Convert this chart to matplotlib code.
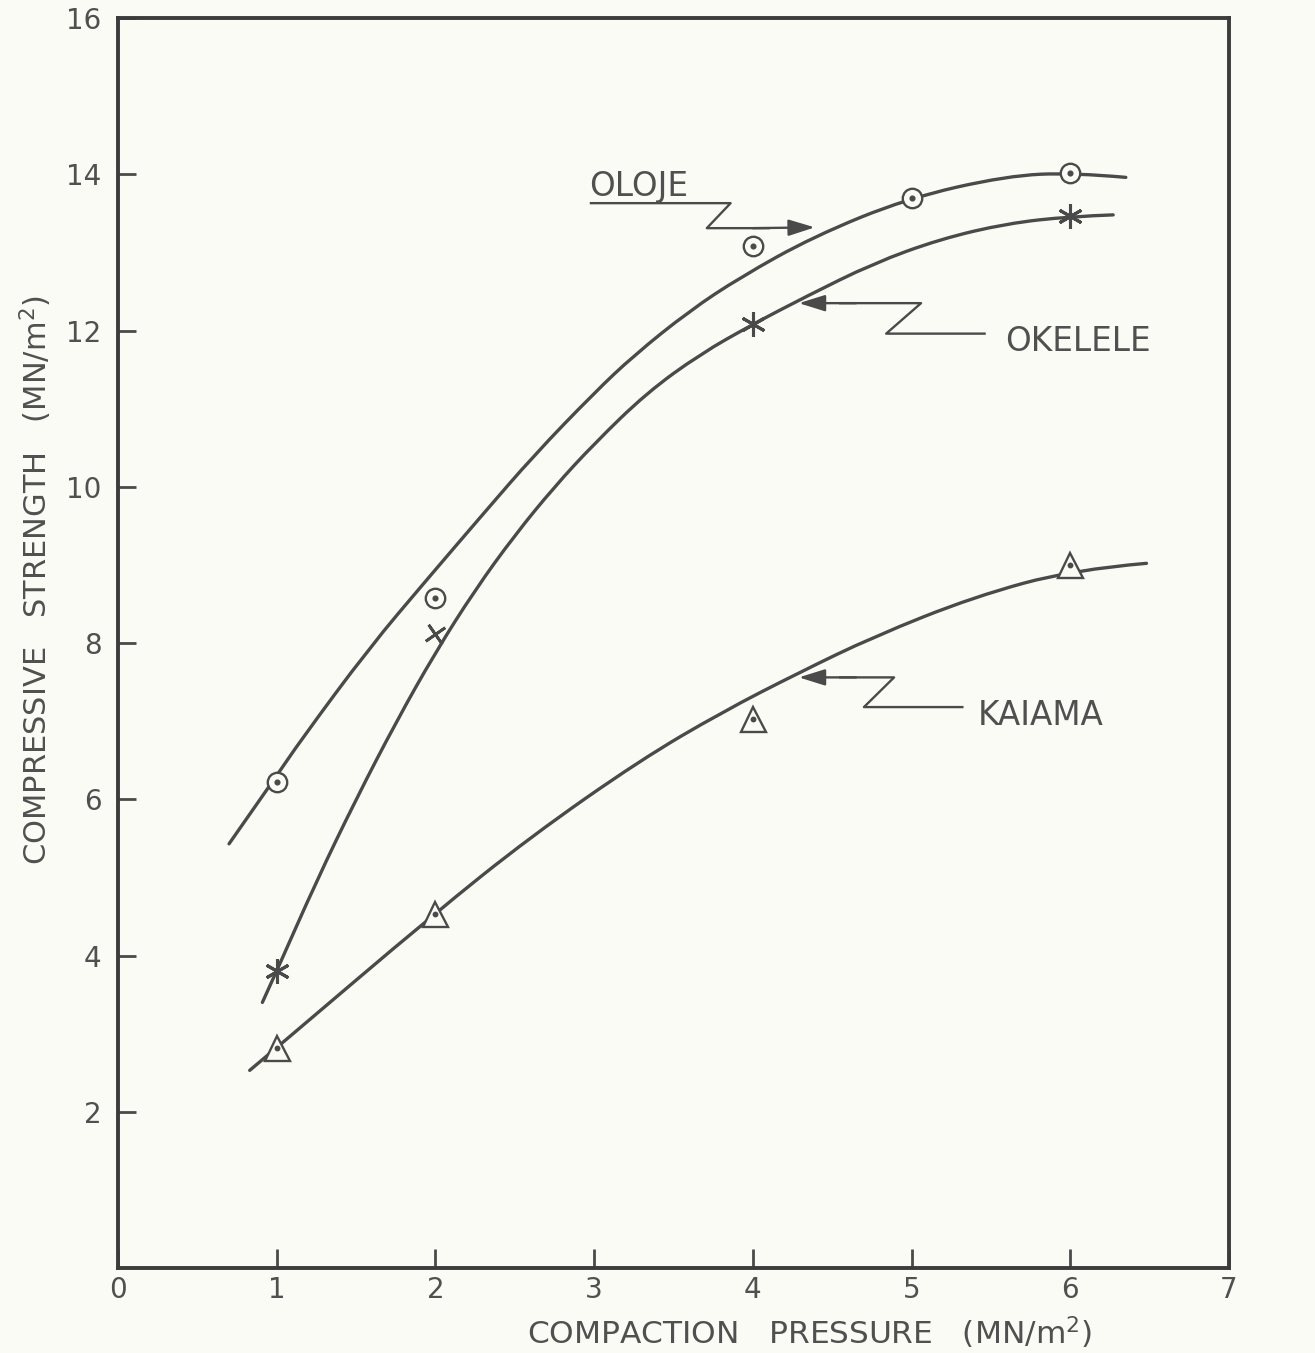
import matplotlib
matplotlib.use("Agg")
import matplotlib.pyplot as plt
from matplotlib.path import Path
from matplotlib.patches import PathPatch

# measured points
pressure_oloje = [1, 2, 4, 5, 6]
strength_oloje = [6.22, 8.58, 13.08, 13.69, 14.01]
pressure_okelele = [1, 2, 4, 6]
strength_okelele = [3.80, 8.12, 12.08, 13.47]
pressure_kaiama = [1, 2, 4, 6]
strength_kaiama = [2.82, 4.53, 7.03, 9.00]

# hand drawn trend curves
curve_oloje_x = [0.70, 1.00, 1.15, 1.58, 1.95, 2.30, 2.62, 3.00, 3.25, 3.60, 3.92, 4.38, 4.97, 5.60, 6.02, 6.35]
curve_oloje_y = [5.43, 6.30, 6.75, 7.93, 8.82, 9.65, 10.40, 11.20, 11.68, 12.25, 12.68, 13.20, 13.69, 13.98, 14.02, 13.96]
curve_okelele_x = [0.91, 1.00, 1.25, 1.50, 1.75, 2.00, 2.25, 2.50, 2.75, 3.00, 3.33, 3.67, 4.00, 4.34, 4.76, 5.18, 5.60, 6.00, 6.27]
curve_okelele_y = [3.40, 3.80, 4.95, 6.00, 6.98, 7.88, 8.68, 9.38, 10.00, 10.55, 11.20, 11.70, 12.08, 12.44, 12.86, 13.17, 13.37, 13.46, 13.48]
curve_kaiama_x = [0.83, 1.00, 1.99, 2.60, 3.29, 3.81, 4.29, 4.76, 5.39, 6.02, 6.48]
curve_kaiama_y = [2.53, 2.82, 4.53, 5.52, 6.50, 7.12, 7.62, 8.08, 8.59, 8.94, 9.02]

x_ticks = [0, 1, 2, 3, 4, 5, 6, 7]
y_ticks = [2, 4, 6, 8, 10, 12, 14, 16]

ink = '#4a4a4a'
text_ink = '#505050'
paper = '#fbfbf6'
plt.rcParams['font.family'] = ['DejaVu Sans']


def smooth_curve(ax, xs, ys):
    # quadratic bezier through the midpoints of the traced points
    pts = list(zip(xs, ys))
    verts = [pts[0]]
    codes = [Path.MOVETO]
    for i in range(1, len(pts) - 1):
        mid = ((pts[i][0] + pts[i + 1][0]) / 2, (pts[i][1] + pts[i + 1][1]) / 2)
        if i == len(pts) - 2:
            mid = pts[-1]
        verts += [pts[i], mid]
        codes += [Path.CURVE3, Path.CURVE3]
    patch = PathPatch(Path(verts, codes), fill=False, edgecolor=ink, lw=2.4,
                      capstyle='round', zorder=2)
    ax.add_patch(patch)


fig = plt.figure(figsize=(13.15, 13.53), dpi=100, facecolor=paper)
ax = fig.add_axes([0.0897, 0.0628, 0.8449, 0.9239])
ax.set_facecolor(paper)

smooth_curve(ax, curve_oloje_x, curve_oloje_y)
smooth_curve(ax, curve_okelele_x, curve_okelele_y)
smooth_curve(ax, curve_kaiama_x, curve_kaiama_y)

# circles with centre dot
ax.plot(pressure_oloje, strength_oloje, ls='none', marker='o', ms=14,
        mfc=paper, mec=ink, mew=1.7, zorder=3)
ax.plot(pressure_oloje, strength_oloje, ls='none', marker='o', ms=3.4,
        mfc=ink, mec=ink, zorder=4)

# crosses / asterisks
ax.plot([pressure_okelele[i] for i in (0, 2, 3)], [strength_okelele[i] for i in (0, 2, 3)],
        ls='none', marker=(6, 2, 0), ms=18, mec=ink, mew=2.2, zorder=3)
ax.plot(pressure_okelele[1], strength_okelele[1], ls='none', marker=(4, 2, 35), ms=17,
        mec=ink, mew=2.0, zorder=3)

# triangles with centre dot
ax.plot(pressure_kaiama, strength_kaiama, ls='none', marker='^', ms=18,
        mfc=paper, mec=ink, mew=1.7, zorder=3)
ax.plot(pressure_kaiama, strength_kaiama, ls='none', marker='o', ms=3.2,
        mfc=ink, mec=ink, zorder=4)

# labels with Z-shaped leaders
lead_kw = dict(color=ink, lw=1.7, zorder=2)
arrow_kw = dict(arrowstyle='-|>,head_length=0.8,head_width=0.25', mutation_scale=20,
                color=ink, lw=1.7, shrinkA=0, shrinkB=0)
txt_kw = dict(fontsize=23.5, color=text_ink, va='center')

ax.text(2.97, 13.84, 'OLOJE', ha='left', **txt_kw)
ax.plot([2.98, 3.86, 3.71, 4.10], [13.63, 13.63, 13.31, 13.31], **lead_kw)
ax.annotate('', xy=(4.39, 13.32), xytext=(4.0, 13.31), arrowprops=arrow_kw)

ax.text(5.59, 11.86, 'OKELELE', ha='left', **txt_kw)
ax.plot([5.46, 4.84, 5.06, 4.55], [11.96, 11.96, 12.35, 12.35], **lead_kw)
ax.annotate('', xy=(4.29, 12.35), xytext=(4.65, 12.35), arrowprops=arrow_kw)

ax.text(5.42, 7.07, 'KAIAMA', ha='left', **txt_kw)
ax.plot([5.32, 4.70, 4.89, 4.55], [7.18, 7.18, 7.56, 7.56], **lead_kw)
ax.annotate('', xy=(4.29, 7.56), xytext=(4.65, 7.56), arrowprops=arrow_kw)

ax.set_xlim(0, 7)
ax.set_ylim(0, 16)
ax.set_xticks(x_ticks)
ax.set_yticks(y_ticks)
ax.set_xticklabels([str(t) for t in x_ticks])
ax.set_yticklabels([str(t) for t in y_ticks])
ax.tick_params(axis='x', direction='in', length=14, width=2, color=ink,
               labelsize=20, labelcolor=text_ink, pad=6)
ax.tick_params(axis='y', direction='in', length=13, width=2, color=ink,
               labelsize=20, labelcolor=text_ink, pad=12)
for s in ax.spines.values():
    s.set_linewidth(2.8)
    s.set_color('#3c3c3c')

fig.text(810 / 1315, 1 - 1333 / 1353, 'COMPACTION   PRESSURE   (MN/m$^2$)',
         fontsize=22.5, color=text_ink, ha='center', va='center')
fig.text(36 / 1315, 1 - 580 / 1353, 'COMPRESSIVE   STRENGTH   (MN/m$^2$)',
         fontsize=22, color=text_ink, ha='center', va='center', rotation=90)

fig.savefig('out.png', dpi=100, facecolor=paper)
